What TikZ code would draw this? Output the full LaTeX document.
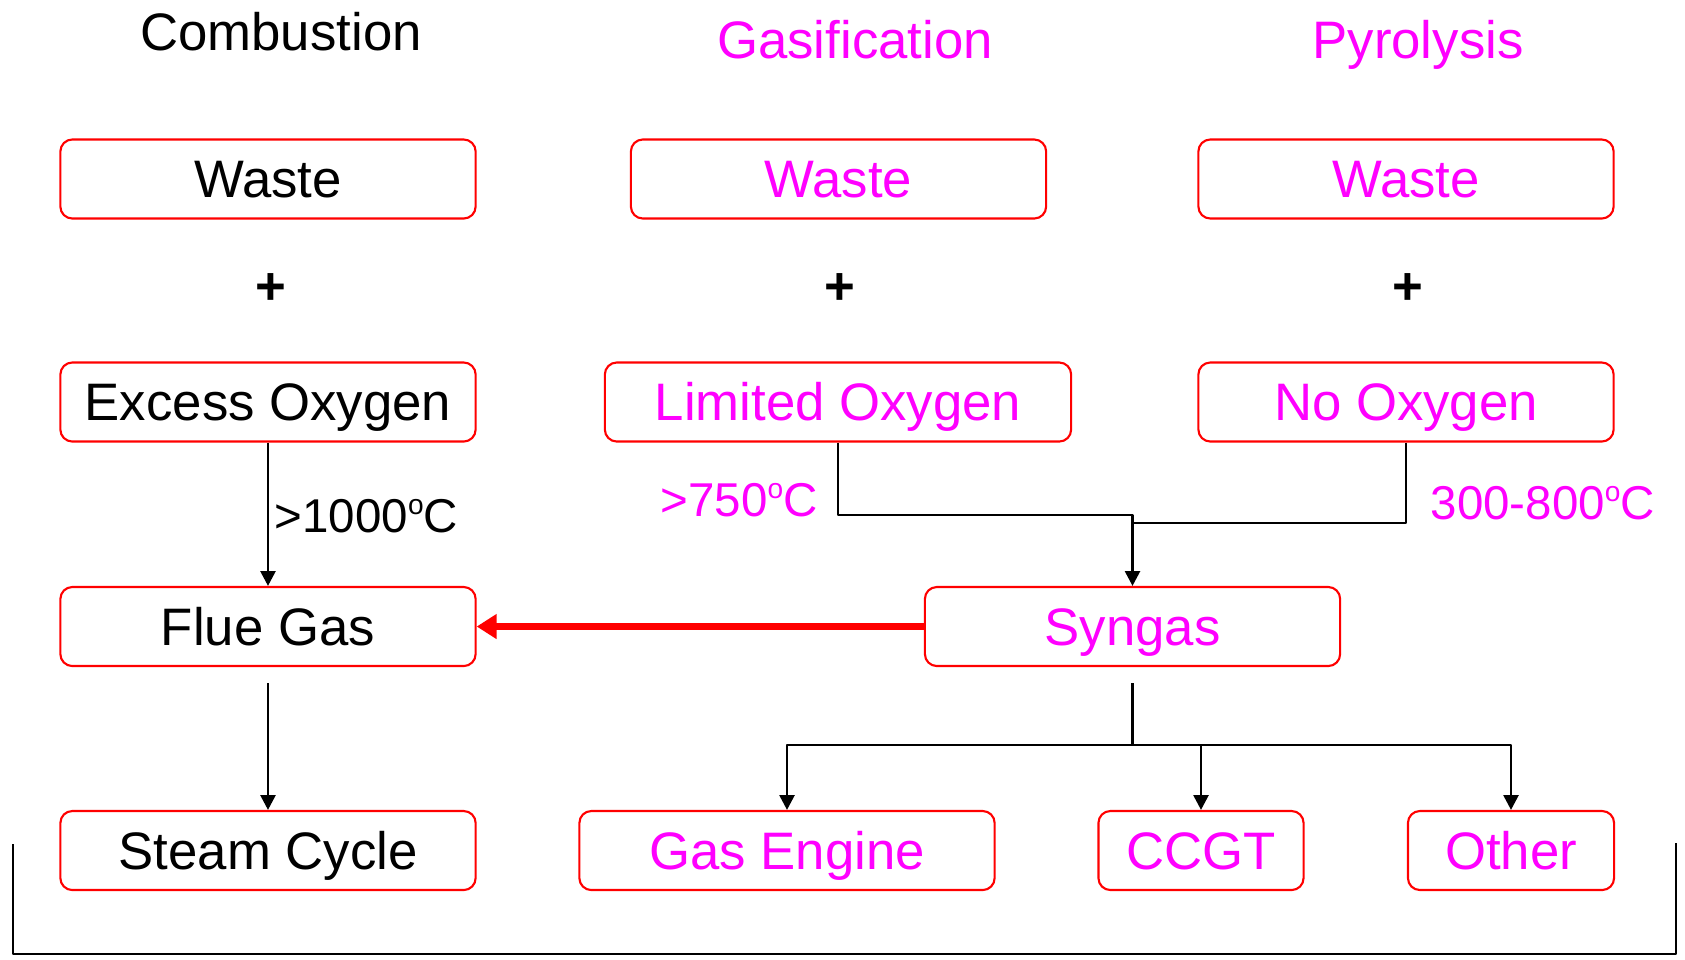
\documentclass[tikz,border=0pt]{standalone}
\usepackage{fontspec}
\setmainfont{Liberation Sans}
\usepackage{tikz}
\usetikzlibrary{arrows.meta}
\definecolor{mgc}{RGB}{255,0,255}
\newcommand{\degsup}{\raisebox{0.36em}{\fontsize{8}{8}\selectfont o}}

\begin{document}
\begin{tikzpicture}[x=0.01cm,y=-0.01cm,line join=round,
  box/.style={draw=red,line width=0.6pt,rounded corners=3.4pt,minimum width=4.15cm,minimum height=0.79cm,inner sep=0pt,text height=10.7pt,text depth=0pt,font=\fontsize{15}{18}\selectfont},
  plus/.style={inner sep=0pt,font=\fontsize{15}{18}\selectfont\bfseries},
  ttl/.style={anchor=base,inner sep=0pt,font=\fontsize{15}{18}\selectfont},
  tmp/.style={anchor=base west,inner sep=0pt,font=\fontsize{13.5}{16}\selectfont},
  ln/.style={line width=0.8pt},
  arr/.style={ln,-{Triangle[length=4.2pt,width=4.2pt]}},
  bigarr/.style={red,line width=2.1pt,-{Triangle[length=5.7pt,width=6.8pt]}}]
  \useasboundingbox (0,0) rectangle (1685,959);
  % column titles
  \node[ttl] (tcomb) at (281,50) {Combustion}; \node[ttl,text=mgc] (tgas) at (855,58) {Gasification}; \node[ttl,text=mgc] (tpyr) at (1418,58) {Pyrolysis};
  % inputs
  \node[box] (wcomb) at (268,179) {Waste}; \node[box,text=mgc] (wgas) at (838.5,179) {Waste}; \node[box,text=mgc] (wpyr) at (1406,179) {Waste};
  \node[plus] (pcomb) at (271,289.5) {+}; \node[plus] (pgas) at (840,289.5) {+}; \node[plus] (ppyr) at (1408,289.5) {+};
  \node[box] (exox) at (268,402) {Excess Oxygen}; \node[box,text=mgc,minimum width=4.66cm] (limox) at (838,402) {Limited Oxygen}; \node[box,text=mgc] (noox) at (1406,402) {No Oxygen};
  % products
  \node[box] (flue) at (268,626.5) {Flue Gas}; \node[box,text=mgc] (syn) at (1132.5,626.5) {Syngas};
  \node[box] (steam) at (268,850.5) {Steam Cycle}; \node[box,text=mgc] (geng) at (787,850.5) {Gas Engine};
  \node[box,text=mgc,minimum width=2.05cm] (ccgt) at (1201,850.5) {CCGT}; \node[box,text=mgc,minimum width=2.06cm] (oth) at (1511,850.5) {Other};
  % temperatures
  \node[tmp] (t1) at (274,532) {>1000\degsup C}; \node[tmp,text=mgc] (t2) at (660,516) {>750\degsup C}; \node[tmp,text=mgc] (t3) at (1430,519) {300-800\degsup C};
  % connectors
  \coordinate (jlim) at (1132.5,515); \coordinate (jpyr) at (1132.5,523); \coordinate (split) at (1132.5,745);
  \draw[arr] (exox.south) -- (flue.north); \draw[arr,shorten <=0.16cm] (flue.south) -- (steam.north);
  \draw[arr] (limox.south) |- (jlim) -- (syn.north); \draw[ln] (noox.south) |- (jpyr);
  \draw[ln,shorten <=0.16cm] (syn.south) -- (split);
  \draw[arr] (split) -| (geng.north); \draw[arr] (split) -| (ccgt.north); \draw[arr] (split) -| (oth.north);
  \draw[bigarr] (syn.west) -- (flue.east);
  \draw[ln] (13,844) |- (1676,954) -- (1676,843);
\end{tikzpicture}
\end{document}
